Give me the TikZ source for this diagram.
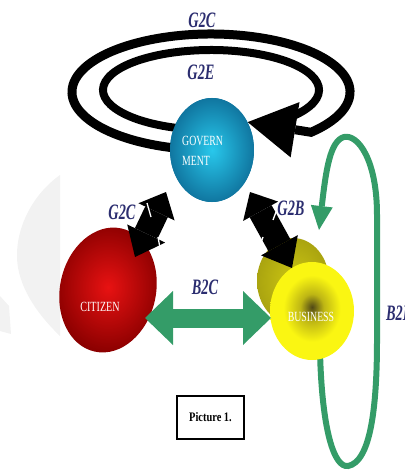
\documentclass[tikz,border=0pt]{standalone}
\usepackage{fontspec}
\usepackage{graphicx}
\setmainfont{Liberation Serif}
\usetikzlibrary{arrows.meta,calc,shapes.geometric}

\definecolor{lblblue}{RGB}{44,46,112}
\definecolor{flow}{RGB}{52,156,104}
\definecolor{wmgray}{RGB}{242,242,242}
\definecolor{govin}{RGB}{40,200,236}
\definecolor{govout}{RGB}{16,118,160}
\definecolor{citin}{RGB}{232,18,18}
\definecolor{citout}{RGB}{140,0,0}
\definecolor{busdark}{RGB}{80,72,22}
\definecolor{busmid}{RGB}{190,182,20}
\definecolor{busyel}{RGB}{250,246,18}
\definecolor{busback}{RGB}{204,198,18}
\definecolor{busbackdk}{RGB}{170,164,16}

\pgfdeclareradialshading{busball}{\pgfpoint{0bp}{2bp}}{%
  color(0bp)=(busdark); color(7bp)=(busmid); color(17bp)=(busyel);
  color(25bp)=(busyel); color(50bp)=(busyel)}

\newcommand\sqz[2]{\scalebox{#1}[1]{#2}}

\begin{document}
\begin{tikzpicture}[x=1pt,y=-1pt,
  lbl/.style={text=lblblue, inner sep=0,
    font=\fontsize{22}{22}\selectfont\bfseries\itshape},
  inlbl/.style={text=white, inner sep=0, align=left,
    font=\fontsize{14}{20}\selectfont},
  blkarrow/.style={black, line width=25pt,
    {Triangle[width=40pt,length=22pt,line width=0pt]}-{Triangle[width=42pt,length=26pt,line width=0pt]}},
  tick/.style={white, line width=1.3pt},
  ring/.style={black},
  flowarrow/.style={flow, line width=19pt,
    {Triangle[width=54pt,length=28pt,line width=0pt]}-{Triangle[width=54pt,length=28pt,line width=0pt]}},
  loop/.style={flow, line width=6pt,
    -{Triangle[width=22pt,length=24pt,line width=0pt]}},
]
\useasboundingbox (0,0) rectangle (404,473);
\clip (0,0) rectangle (404,473);

% faint watermark crescent on the left
\fill[wmgray] (60,175) .. controls (32,195) and (16,228) .. (17,258)
  .. controls (18,285) and (35,312) .. (60,336) -- cycle;
\fill[wmgray] (0,296) -- (9,306) -- (11,334) -- (0,331) -- cycle;

% anchor points for the connectors
\coordinate (g2cA) at (166,192);
\coordinate (g2cB) at (135,257);
\coordinate (g2bA) at (250,192);
\coordinate (g2bB) at (292,268);
\coordinate (b2cL) at (145,318);
\coordinate (b2cR) at (271,318);
\coordinate (loopStart) at (320,352);
\coordinate (loopEnd) at (319,230);
\coordinate (outerC) at (211,92);
\coordinate (innerC) at (211,90);

% B2B loop (behind the business spheres)
\draw[loop] (loopStart) .. controls (322,430) and (334,468) .. (348,466)
  .. controls (370,462) and (377,410) .. (377,340)
  -- (377,215) .. controls (377,160) and (358,134) .. (344,137)
  .. controls (330,141) and (326,170) .. (loopEnd);

% government node
\node[ellipse, minimum width=84pt, minimum height=104pt, inner sep=0,
  shading=radial, inner color=govin, outer color=govout] (gov) at (212,150) {};

% G2C / G2E loops around the government
\draw[ring, line width=8pt] ([shift={(108:108 and 40)}]innerC)
  arc[start angle=108, end angle=405, x radius=108, y radius=40];
\draw[ring, line width=9pt, -{Triangle[width=56pt,length=48pt,line width=0pt]}]
  ([shift={(106:139 and 58)}]outerC)
  arc[start angle=106, end angle=404, x radius=139, y radius=58] -- (gov.38);
% sphere drawn again so the loop ends sit behind it
\shade[inner color=govin, outer color=govout] (gov.center) ellipse[x radius=42, y radius=52];
\node[inlbl, anchor=west] (govlbl) at (182,151) {\sqz{0.7}{GOVERN}\\\sqz{0.7}{MENT}};

% citizen node
\node[ellipse, minimum width=96pt, minimum height=126pt, inner sep=0,
  rotate=-12, shading=radial, inner color=citin, outer color=citout] (cit) at (108,290) {};
\node[inlbl] (citlbl) at (100,307) {\sqz{0.72}{CITIZEN}};

% business node (two overlapping spheres)
\node[ellipse, minimum width=72pt, minimum height=86pt, inner sep=0,
  shading=radial, inner color=busback, outer color=busbackdk] (busb) at (293,281) {};
\node[ellipse, minimum width=84pt, minimum height=98pt, inner sep=0,
  shading=busball] (bus) at (312,311) {};
\node[inlbl] (buslbl) at (311,317) {\sqz{0.7}{BUSINESS}};

% G2C and G2B double arrows
\draw[blkarrow] (g2cA) -- (g2cB);
\draw[tick] (147,203) -- (151,217);
\draw[tick] (158,237) -- (160,248);
\draw[blkarrow] (g2bA) -- (g2bB);
\draw[tick] (276,212) -- (273,220);
\draw[tick] (263,237) -- (260,245);

% B2C double arrow
\draw[flowarrow] (b2cL) -- (b2cR);

% labels
\node[lbl] (lg2c) at (202,20) {\sqz{0.65}{G2C}};
\node[lbl] (lg2e) at (201,72) {\sqz{0.65}{G2E}};
\node[lbl] (lg2cl) at (122,212) {\sqz{0.65}{G2C}};
\node[lbl] (lg2b) at (291,208) {\sqz{0.65}{G2B}};
\node[lbl] (lb2c) at (205,287) {\sqz{0.65}{B2C}};
\node[lbl, anchor=west] (lb2b) at (386,313) {\sqz{0.65}{B2B}};

% caption box
\node[draw=black, line width=1.1pt, minimum width=67pt, minimum height=43pt,
  inner sep=0, font=\fontsize{13}{13}\selectfont\bfseries] (cap) at (210.5,417.5)
  {\sqz{0.8}{Picture 1.}};
\end{tikzpicture}
\end{document}
